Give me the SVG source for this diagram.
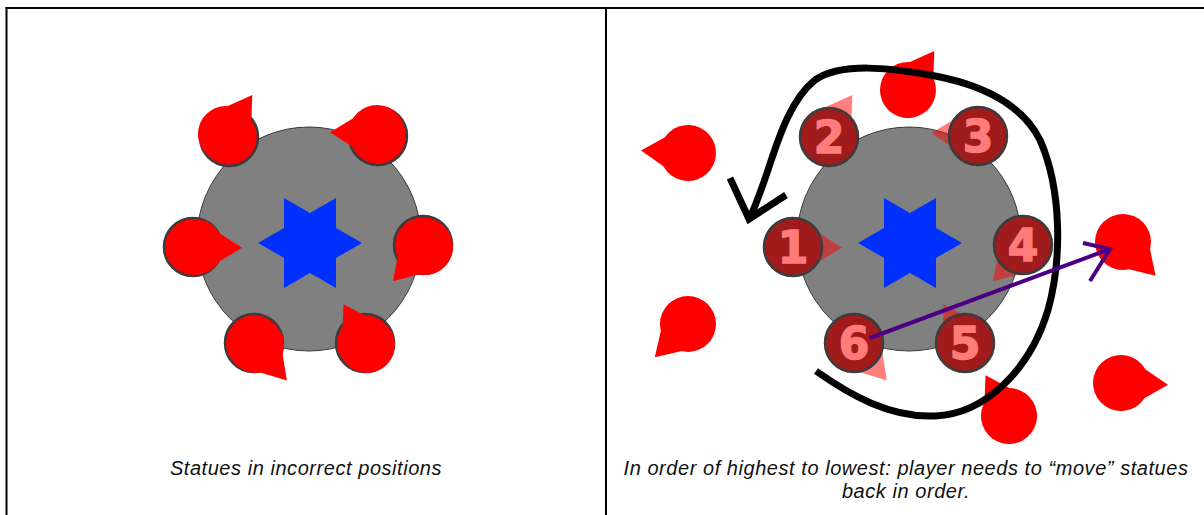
<svg xmlns="http://www.w3.org/2000/svg" xmlns:xlink="http://www.w3.org/1999/xlink" width="1204" height="515" viewBox="0 0 1204 515">
  <style>
    .frame { stroke: #000; stroke-width: 2; fill: none; }
    .dais { fill: #808080; stroke: #3a3a3a; stroke-width: 1; }
    .star { fill: #0030ff; }
    .base { fill: #ff0000; stroke: #3c3c3c; stroke-width: 2.5; }
    .statue { fill: #ff0000; }
    .placed { fill: #a01c1c; stroke: #3c3c3c; stroke-width: 2.5; }
    .ghost { fill: #ff0000; opacity: 0.5; }
    .num { font-family: "DejaVu Sans", "Liberation Sans", sans-serif; font-weight: bold; font-size: 44px; fill: #ff7c7c; stroke: #ff7c7c; stroke-width: 1.5; text-anchor: middle; }
    .cap { font-family: "Liberation Sans", Arial, sans-serif; font-style: italic; font-size: 20px; letter-spacing: 0.55px; fill: #111; text-anchor: middle; }
    .loop { fill: none; stroke: #000; stroke-width: 7; stroke-linecap: butt; }
    .swap { fill: none; stroke: #4b0082; stroke-width: 4; }
  </style>
  <defs>
    <!-- statue: round body with a pointer facing +x -->
    <g id="pin">
      <circle r="28"/>
      <polygon points="15,-20 47,0 15,20"/>
    </g>
    <polygon id="pointer" points="15,-20 47,0 15,20"/>
    <polygon id="hexagram" points="0,-52 15,-26 45,-26 30,0 45,26 15,26 0,52 -15,26 -45,26 -30,0 -45,-26 -15,-26" transform="rotate(90)"/>
  </defs>

  <rect width="1204" height="515" fill="#fff"/>

  <!-- table frame -->
  <g id="table">
    <line class="frame" x1="5.5" y1="8" x2="1204" y2="8"/>
    <line class="frame" x1="6.5" y1="7" x2="6.5" y2="515"/>
    <line class="frame" x1="606" y1="7" x2="606" y2="515"/>
  </g>

  <!-- left panel: statues out of place -->
  <g id="left-dais">
    <circle class="dais" cx="309" cy="239" r="112"/>
    <use xlink:href="#hexagram" class="star" transform="translate(310,243)"/>
  </g>
  <g id="statue-tl">
    <circle class="base" cx="229" cy="137" r="29"/>
    <use xlink:href="#pin" class="statue" transform="translate(226,134) rotate(-56)"/>
  </g>
  <g id="statue-tr">
    <circle class="base" cx="378" cy="136" r="29"/>
    <use xlink:href="#pin" class="statue" transform="translate(377,133) rotate(181)"/>
  </g>
  <g id="statue-l">
    <circle class="base" cx="193" cy="247" r="29"/>
    <use xlink:href="#pin" class="statue" transform="translate(195,247) rotate(1)"/>
  </g>
  <g id="statue-r">
    <circle class="base" cx="423" cy="245" r="29"/>
    <use xlink:href="#pin" class="statue" transform="translate(425,247) rotate(133)"/>
  </g>
  <g id="statue-bl">
    <circle class="base" cx="254" cy="343" r="29"/>
    <use xlink:href="#pin" class="statue" transform="translate(256,345) rotate(49)"/>
  </g>
  <g id="statue-br">
    <circle class="base" cx="365" cy="343" r="29"/>
    <use xlink:href="#pin" class="statue" transform="translate(367,345) rotate(-120)"/>
  </g>
  <text class="cap" x="306" y="475">Statues in incorrect positions</text>

  <!-- right panel: numbered slots and loose statues -->
  <g id="right-dais">
    <circle class="dais" cx="909" cy="239" r="112"/>
    <use xlink:href="#hexagram" class="star" transform="translate(910,243)"/>
  </g>

  <g id="loose-statues">
    <use xlink:href="#pin" class="statue" transform="translate(908,90) rotate(-56)"/>
    <use xlink:href="#pin" class="statue" transform="translate(688,153) rotate(183)"/>
    <use xlink:href="#pin" class="statue" transform="translate(688,324) rotate(135)"/>
    <use xlink:href="#pin" class="statue" transform="translate(1123,242) rotate(46)"/>
    <use xlink:href="#pin" class="statue" transform="translate(1121,383) rotate(2)"/>
    <use xlink:href="#pin" class="statue" transform="translate(1009,416) rotate(-120)"/>
  </g>

  <g id="slot-1">
    <use xlink:href="#pointer" class="ghost" transform="translate(795,247) rotate(1)"/>
    <circle class="placed" cx="793" cy="247" r="29"/>
    <text class="num" x="793" y="263">1</text>
  </g>
  <g id="slot-2">
    <use xlink:href="#pointer" class="ghost" transform="translate(826,134) rotate(-56)"/>
    <circle class="placed" cx="829" cy="137" r="29"/>
    <text class="num" x="829" y="153">2</text>
  </g>
  <g id="slot-3">
    <use xlink:href="#pointer" class="ghost" transform="translate(978,134) rotate(181)"/>
    <circle class="placed" cx="978" cy="136" r="29"/>
    <text class="num" x="978" y="152">3</text>
  </g>
  <g id="slot-4">
    <use xlink:href="#pointer" class="ghost" transform="translate(1025,247) rotate(133)"/>
    <circle class="placed" cx="1023" cy="245" r="29"/>
    <text class="num" x="1023" y="261">4</text>
  </g>
  <g id="slot-5">
    <use xlink:href="#pointer" class="ghost" transform="translate(967,345) rotate(-120)"/>
    <circle class="placed" cx="965" cy="343" r="29"/>
    <text class="num" x="965" y="359">5</text>
  </g>
  <g id="slot-6">
    <use xlink:href="#pointer" class="ghost" transform="translate(856,345) rotate(49)"/>
    <circle class="placed" cx="854" cy="343" r="29"/>
    <text class="num" x="854" y="359">6</text>
  </g>

  <g id="connectors">
    <!-- rotation loop, counter-clockwise -->
    <path class="loop" d="M 816,371 C 850,395 890,418 935,416 C 985,414 1030,370 1048,310 C 1062,260 1062,190 1040,140 C 1020,100 975,83 930,75 C 890,68 842,62 815,80 C 790,100 778,140 768,170 C 762,188 756,204 750,218"/>
    <polyline class="loop" points="730,178 749,219 786,195" stroke-linejoin="miter"/>
    <!-- swap move from slot 6 out to the loose statue -->
    <line class="swap" x1="870" y1="338" x2="1110" y2="249"/>
    <polyline class="swap" points="1083,243 1110,249 1090,281"/>
  </g>

  <text class="cap" x="906" y="475">In order of highest to lowest: player needs to “move” statues</text>
  <text class="cap" x="906" y="498">back in order.</text>
</svg>
